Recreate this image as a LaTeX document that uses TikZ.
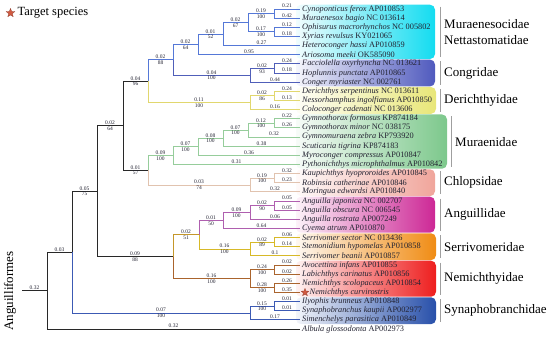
\documentclass[tikz,border=0pt]{standalone}
\usepackage{fontspec}
\setmainfont{Liberation Serif}
\usepackage{xcolor}
\usetikzlibrary{calc,positioning,shapes.geometric}
\definecolor{backbone}{RGB}{40,40,40}
\definecolor{muraenesocid}{RGB}{85,120,215}
\definecolor{congrid}{RGB}{80,95,185}
\definecolor{derichthyid}{RGB}{225,215,110}
\definecolor{muraenid}{RGB}{150,205,155}
\definecolor{chlopsid}{RGB}{225,195,175}
\definecolor{anguillid}{RGB}{175,95,175}
\definecolor{serrivomerid}{RGB}{215,185,40}
\definecolor{nemichthyid}{RGB}{170,100,45}
\definecolor{synaphobranchid}{RGB}{60,90,180}
\definecolor{box_mur}{RGB}{20,220,240}
\definecolor{box_con}{RGB}{80,90,190}
\definecolor{box_der}{RGB}{232,230,120}
\definecolor{box_mra}{RGB}{125,200,140}
\definecolor{box_chl}{RGB}{240,165,155}
\definecolor{box_ang}{RGB}{205,40,150}
\definecolor{box_ser}{RGB}{240,140,20}
\definecolor{box_nem}{RGB}{238,30,30}
\definecolor{box_syn}{RGB}{40,80,170}
\definecolor{starred}{RGB}{210,90,65}
\definecolor{labelink}{RGB}{35,35,50}

\tikzset{
  branch/.style={line width=0.85pt},
  branchlen/.style={font=\fontsize{5.5}{6}\selectfont, text=labelink, inner sep=0.6pt, above},
  support/.style={font=\fontsize{5.5}{6}\selectfont, text=labelink, inner sep=0.6pt, below},
  taxon/.style={font=\fontsize{8.3}{9}\selectfont, text=labelink, anchor=west, inner sep=0pt},
  family/.style={font=\fontsize{13}{16}\selectfont, anchor=west, align=left, inner sep=0pt},
  familybar/.style={draw=gray!75, line width=0.9pt},
  cladebox/.style={rounded corners=5pt},
  target/.style={star, star points=5, star point ratio=2.3, minimum size=8pt, inner sep=0pt,
    fill=starred, draw=starred!70!black, line width=0.3pt}
}

\newcommand{\joint}[4]{\path let \p1=($(#3)!.5!(#4)$) in coordinate (#1) at (#2pt,\y1);}
\newcommand{\edge}[5]{\draw[branch,#5] (#1) |- (#2)
  node[branchlen,pos=.75] {#3} node[support,pos=.75] {#4};}

\begin{document}
\begin{tikzpicture}[x=1pt,y=-1pt]
            \useasboundingbox (0,0) rectangle (550,338);

            \foreach \i in {1,...,36}
              \coordinate (L\i) at (300,{9+(\i-1)*9.143});

            \foreach \first/\last/\col/\right in {1/6/box_mur/435, 7/9/box_con/435, 10/12/box_der/436,
              13/18/box_mra/447, 19/21/box_chl/435, 22/25/box_ang/435, 26/28/box_ser/436,
              29/32/box_nem/436, 33/35/box_syn/436}
              \shade[cladebox, left color=\col!6, right color=\col]
                ($(L\first)+(-4,-4.3)$) rectangle ($(L\last -| \right,0)+(0,4.3)$);

            \foreach \nd/\xpos/\ca/\cb in {p1/274/L1/L2, p3/274/L3/L4, mG/248/p1/p3, mF/223/mG/L5,
              mE/198/mF/L6, p7/274/L7/L8, cC/250/p7/L9, mD/173/mE/cC, p10/274/L10/L11,
              dC/250/p10/L12, nC/148/mD/dC, p13/274/L13/L14, m4/248/p13/L15, m3/223/m4/L16,
              m2/198/m3/L17, m1/173/m2/L18, p19/274/L19/L20, chC/250/p19/L21, nH/148/m1/chC,
              nB/123/nC/nH, p22/274/L22/L23, a2/250/p22/L24, a1/223/a2/L25, p26/274/L26/L27,
              sC/250/p26/L28, nJ/199/a1/sC, p29/274/L29/L30, p31/274/L31/L32, neC/250/p29/p31,
              nI/173/nJ/neC, nA/97/nB/nI, p33/274/L33/L34, syC/250/p33/L35, nK/72/nA/syC,
              root/47/nK/L36}
              {\joint{\nd}{\xpos}{\ca}{\cb}}
            \joint{stem}{22}{root}{root}

            \foreach \up/\down/\len/\sup/\col in {
              stem/root/0.32//backbone, root/nK/0.03//backbone, root/L36/0.32//backbone,
              nK/nA/0.05/75/backbone, nK/syC/0.07/100/synaphobranchid,
              nA/nB/0.02/64/backbone, nA/nI/0.09/88/backbone,
              nB/nC/0.04/96/backbone, nB/nH/0.01/57/backbone,
              nC/mD/0.02/88/muraenesocid, nC/dC/0.11/100/derichthyid,
              mD/mE/0.02/64/muraenesocid, mD/cC/0.04/100/congrid,
              mE/mF/0.01/52/muraenesocid, mF/mG/0.02/67/muraenesocid,
              mG/p1/0.19/100/muraenesocid, mG/p3/0.17/100/muraenesocid,
              cC/p7/0.02/93/congrid, dC/p10/0.02/86/derichthyid,
              nH/m1/0.09/100/muraenid, m1/m2/0.07/100/muraenid, m2/m3/0.08/100/muraenid,
              m3/m4/0.07/100/muraenid, m4/p13/0.12/100/muraenid,
              nH/chC/0.03/74/chlopsid, chC/p19/0.19/100/chlopsid,
              nI/nJ/0.02/51/serrivomerid!60!nemichthyid, nI/neC/0.16/100/nemichthyid,
              nJ/a1/0.01/50/anguillid, a1/a2/0.09/100/anguillid, a2/p22/0.02/90/anguillid,
              nJ/sC/0.16/100/serrivomerid, sC/p26/0.02/89/serrivomerid,
              neC/p29/0.24/100/nemichthyid, neC/p31/0.28/100/nemichthyid,
              syC/p33/0.15/100/synaphobranchid,
              p1/L1/0.21//muraenesocid, p1/L2/0.42//muraenesocid, p3/L3/0.12//muraenesocid,
              p3/L4/0.18//muraenesocid, mF/L5/0.27//muraenesocid, mE/L6/0.95//muraenesocid,
              p7/L7/0.24//congrid, p7/L8/0.18//congrid, cC/L9/0.44//congrid,
              p10/L10/0.24//derichthyid, p10/L11/0.13//derichthyid, dC/L12/0.16//derichthyid,
              p13/L13/0.22//muraenid, p13/L14/0.26//muraenid, m4/L15/0.32//muraenid,
              m3/L16/0.38//muraenid, m2/L17/0.36//muraenid, m1/L18/0.31//muraenid,
              p19/L19/0.32//chlopsid, p19/L20/0.23//chlopsid, chC/L21/0.32//chlopsid,
              p22/L22/0.05//anguillid, p22/L23/0.05//anguillid, a2/L24/0.06//anguillid,
              a1/L25/0.64//anguillid, p26/L26/0.06//serrivomerid, p26/L27/0.14//serrivomerid,
              sC/L28/0.1//serrivomerid, p29/L29/0.02//nemichthyid, p29/L30/0.02//nemichthyid,
              p31/L31/0.26//nemichthyid, p31/L32/0.35//nemichthyid,
              p33/L33/0.01//synaphobranchid, p33/L34/0.01//synaphobranchid,
              syC/L35/0.17//synaphobranchid}
              {\edge{\up}{\down}{\len}{\sup}{\col}}

            \foreach \i/\sp/\acc in {1/Cynoponticus ferox/AP010853, 2/Muraenesox bagio/NC 013614,
              3/Ophisurus macrorhynchos/NC 005802, 4/Xyrias revulsus/KY021065,
              5/Heteroconger hassi/AP010859, 6/Ariosoma meeki/OK585090,
              7/Facciolella oxyrhyncha/NC 013621, 8/Hoplunnis punctata/AP010865,
              9/Conger myriaster/NC 002761, 10/Derichthys serpentinus/NC 013611,
              11/Nessorhamphus ingolfianus/AP010850, 12/Coloconger cadenati/NC 013606,
              13/Gymnothorax formosus/KP874184, 14/Gymnothorax minor/NC 038175,
              15/Gymnomuraena zebra/KP793920, 16/Scuticaria tigrina/KP874183,
              17/Myroconger compressus/AP010847, 18/Pythonichthys microphthalmus/AP010842,
              19/Kaupichthys hyoproroides/AP010845, 20/Robinsia catherinae/AP010846,
              21/Moringua edwardsi/AP010840, 22/Anguilla japonica/NC 002707,
              23/Anguilla obscura/NC 006545, 24/Anguilla rostrata/AP007249,
              25/Cyema atrum/AP010870, 26/Serrivomer sector/NC 013436,
              27/Stemonidium hypomelas/AP010858, 28/Serrivomer beanii/AP010857,
              29/Avocettina infans/AP010855, 30/Labichthys carinatus/AP010856,
              31/Nemichthys scolopaceus/AP010854, 33/Ilyophis brunneus/AP010848,
              34/Synaphobranchus kaupii/AP002977, 35/Simenchelys parasitica/AP010849,
              36/Albula glossodonta/AP002973}
              \node[taxon] (T\i) at ($(L\i)+(2,0)$) {\textit{\sp} \acc};
            \node[target] (mark) at ($(L32)+(5,0)$) {};
            \node[taxon, right=2pt of mark] (T32) {\textit{Nemichthys curvirostris}};

            \foreach \first/\last/\bx/\lab in {1/6/140/{Muraenesocidae\\Nettastomatidae},
              7/9/140/Congridae, 10/12/140/Derichthyidae, 13/18/151/Muraenidae,
              19/21/140/Chlopsidae, 22/25/140/Anguillidae, 26/28/140/Serrivomeridae,
              29/32/140/Nemichthyidae, 33/35/140/Synaphobranchidae}
            {
              \draw[familybar] ($(L\first)+(\bx,-2.5)$) coordinate (ftop\first)
                -- ($(L\last)+(\bx,2.5)$) coordinate (fbot\first);
              \node[family] (fam\first) at ($(ftop\first)!.5!(fbot\first)+(4,0)$) {\lab};
            }

            \node[target, minimum size=9pt] (legstar) at (10.5,13) {};
            \node[font=\fontsize{12.5}{13}\selectfont, anchor=west, inner sep=0pt,
              right=4pt of legstar] (legtext) {Target species};
            \node[rotate=90, font=\fontsize{13}{14}\selectfont, inner sep=0pt] (order) at (10,291) {Anguilliformes};
        \end{tikzpicture}
\end{document}
